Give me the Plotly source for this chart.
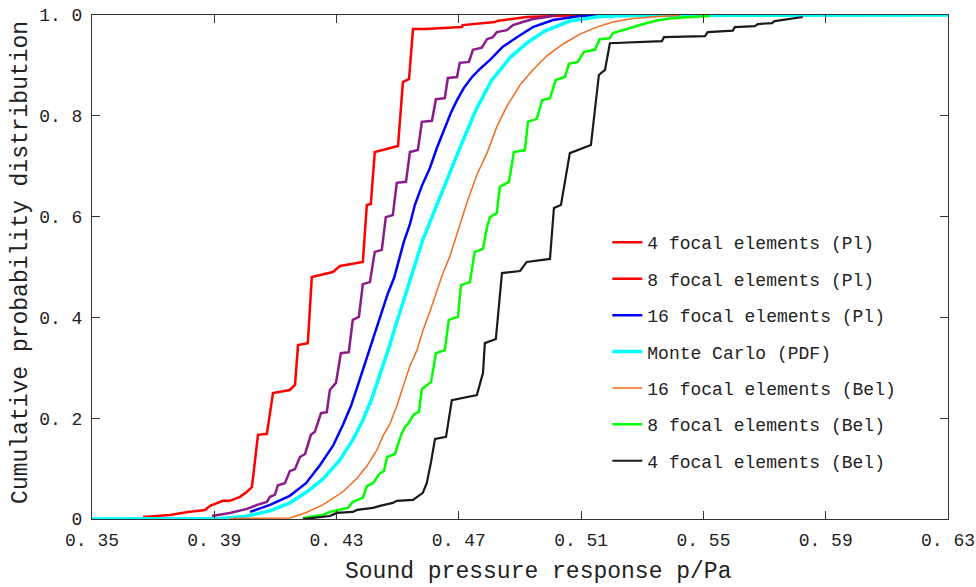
import plotly.graph_objects as go

# ---- data ----
pl4_x = [0.3667, 0.3755, 0.3814, 0.3870, 0.3886, 0.3928, 0.3951, 0.3984, 0.4007, 0.4023,
         0.4043, 0.4072, 0.4092, 0.4147, 0.4164, 0.4174, 0.4206, 0.4219, 0.4288, 0.4311,
         0.4386, 0.4399, 0.4412, 0.4425, 0.4501, 0.4517, 0.4537, 0.4550, 0.4589, 0.4710,
         0.4713, 0.4818, 0.4824, 0.4909, 0.4922, 0.5106]
pl4_y = [0.004, 0.008, 0.014, 0.018, 0.026, 0.036, 0.036, 0.044, 0.054, 0.063,
         0.167, 0.169, 0.250, 0.256, 0.266, 0.345, 0.349, 0.480, 0.490, 0.502,
         0.510, 0.623, 0.625, 0.728, 0.740, 0.867, 0.873, 0.972, 0.972, 0.976,
         0.980, 0.986, 0.988, 0.994, 0.996, 1.000]

pl8_x = [0.3892, 0.3951, 0.4007, 0.4040, 0.4072, 0.4082, 0.4098, 0.4108, 0.4131, 0.4147,
         0.4164, 0.4180, 0.4197, 0.4216, 0.4229, 0.4249, 0.4268, 0.4278, 0.4298, 0.4314,
         0.4340, 0.4353, 0.4373, 0.4386, 0.4409, 0.4425, 0.4448, 0.4461, 0.4484, 0.4497,
         0.4527, 0.4540, 0.4566, 0.4579, 0.4612, 0.4625, 0.4654, 0.4664, 0.4694, 0.4703,
         0.4733, 0.4746, 0.4775, 0.4792, 0.4811, 0.4824, 0.4857, 0.4877, 0.4909, 0.4942,
         0.4988, 0.5021]
pl8_y = [0.006, 0.012, 0.020, 0.028, 0.034, 0.044, 0.048, 0.067, 0.071, 0.095,
         0.099, 0.123, 0.129, 0.167, 0.173, 0.210, 0.212, 0.256, 0.270, 0.329,
         0.331, 0.395, 0.401, 0.466, 0.470, 0.530, 0.534, 0.599, 0.603, 0.667,
         0.669, 0.728, 0.732, 0.788, 0.790, 0.833, 0.835, 0.875, 0.877, 0.905,
         0.907, 0.931, 0.935, 0.952, 0.956, 0.966, 0.970, 0.980, 0.986, 0.992,
         0.996, 1.000]

pl16_x = [0.4017, 0.4082, 0.4147, 0.4200, 0.4246, 0.4288, 0.4321, 0.4347, 0.4370, 0.4393,
          0.4416, 0.4435, 0.4455, 0.4468, 0.4488, 0.4501, 0.4520, 0.4540, 0.4556, 0.4579,
          0.4605, 0.4628, 0.4651, 0.4674, 0.4694, 0.4716, 0.4743, 0.4769, 0.4802, 0.4844,
          0.4890, 0.4942, 0.5008, 0.5096, 0.5178]
pl16_y = [0.014, 0.028, 0.046, 0.071, 0.107, 0.145, 0.187, 0.224, 0.266, 0.308,
          0.349, 0.387, 0.421, 0.448, 0.478, 0.506, 0.550, 0.585, 0.623, 0.661,
          0.696, 0.736, 0.770, 0.806, 0.831, 0.855, 0.877, 0.893, 0.911, 0.937,
          0.956, 0.976, 0.990, 0.998, 1.000]

mc_x = [0.3500, 0.3919, 0.4000, 0.4082, 0.4147, 0.4203, 0.4255, 0.4311, 0.4353, 0.4386,
        0.4416, 0.4442, 0.4474, 0.4497, 0.4524, 0.4553, 0.4582, 0.4612, 0.4641, 0.4671,
        0.4703, 0.4756, 0.4808, 0.4870, 0.4926, 0.4981, 0.5063, 0.5161, 0.5259, 0.6300]
mc_y = [0.000, 0.001, 0.005, 0.016, 0.032, 0.054, 0.079, 0.117, 0.157, 0.196,
        0.240, 0.286, 0.345, 0.391, 0.440, 0.498, 0.554, 0.599, 0.645, 0.688,
        0.736, 0.812, 0.871, 0.917, 0.946, 0.968, 0.988, 0.997, 0.999, 1.000]

bel16_x = [0.3951, 0.4147, 0.4197, 0.4255, 0.4321, 0.4367, 0.4399, 0.4432, 0.4452, 0.4474,
           0.4497, 0.4517, 0.4540, 0.4563, 0.4582, 0.4605, 0.4628, 0.4648, 0.4671, 0.4694,
           0.4726, 0.4759, 0.4792, 0.4824, 0.4857, 0.4900, 0.4942, 0.4988, 0.5040, 0.5096,
           0.5151, 0.5204, 0.5269, 0.5348, 0.5423]
bel16_y = [0.001, 0.002, 0.012, 0.028, 0.054, 0.081, 0.105, 0.137, 0.165, 0.188,
           0.224, 0.260, 0.304, 0.335, 0.373, 0.411, 0.450, 0.488, 0.522, 0.565,
           0.627, 0.683, 0.726, 0.778, 0.819, 0.861, 0.891, 0.919, 0.942, 0.962,
           0.976, 0.986, 0.993, 0.997, 0.999]

bel8_x = [0.4190, 0.4255, 0.4278, 0.4337, 0.4353, 0.4386, 0.4399, 0.4419, 0.4442, 0.4455,
          0.4465, 0.4491, 0.4510, 0.4524, 0.4533, 0.4553, 0.4569, 0.4579, 0.4609, 0.4625,
          0.4654, 0.4667, 0.4697, 0.4707, 0.4736, 0.4752, 0.4779, 0.4792, 0.4802, 0.4824,
          0.4834, 0.4864, 0.4880, 0.4916, 0.4926, 0.4955, 0.4972, 0.4998, 0.5017, 0.5047,
          0.5060, 0.5089, 0.5109, 0.5145, 0.5161, 0.5194, 0.5204, 0.5249, 0.5266, 0.5315,
          0.5348, 0.5390, 0.5433, 0.5521]
bel8_y = [0.002, 0.008, 0.014, 0.022, 0.034, 0.042, 0.065, 0.071, 0.091, 0.095,
          0.123, 0.129, 0.165, 0.183, 0.188, 0.208, 0.212, 0.258, 0.272, 0.329,
          0.335, 0.395, 0.401, 0.464, 0.470, 0.530, 0.536, 0.579, 0.599, 0.607,
          0.659, 0.669, 0.728, 0.732, 0.788, 0.794, 0.831, 0.835, 0.871, 0.877,
          0.903, 0.907, 0.927, 0.931, 0.952, 0.954, 0.964, 0.972, 0.976, 0.984,
          0.989, 0.993, 0.995, 0.998]

bel4_x = [0.4190, 0.4278, 0.4301, 0.4353, 0.4367, 0.4419, 0.4442, 0.4484, 0.4497, 0.4550,
          0.4582, 0.4595, 0.4609, 0.4622, 0.4658, 0.4677, 0.4759, 0.4779, 0.4785, 0.4821,
          0.4841, 0.4900, 0.4922, 0.4998, 0.5011, 0.5034, 0.5063, 0.5132, 0.5158, 0.5178,
          0.5194, 0.5364, 0.5371, 0.5505, 0.5514, 0.5596, 0.5603, 0.5668, 0.5678, 0.5724,
          0.5733, 0.5773, 0.5825]
bel4_y = [0.000, 0.006, 0.012, 0.014, 0.018, 0.022, 0.026, 0.032, 0.036, 0.038,
          0.052, 0.071, 0.113, 0.159, 0.163, 0.236, 0.246, 0.290, 0.349, 0.357,
          0.488, 0.492, 0.510, 0.516, 0.617, 0.623, 0.726, 0.742, 0.881, 0.891,
          0.944, 0.948, 0.956, 0.958, 0.966, 0.969, 0.976, 0.978, 0.982, 0.984,
          0.988, 0.992, 0.996]

x_ticks = [0.35, 0.39, 0.43, 0.47, 0.51, 0.55, 0.59, 0.63]
x_ticktext = ["0. 35", "0. 39", "0. 43", "0. 47", "0. 51", "0. 55", "0. 59", "0. 63"]
y_ticks = [0, 0.2, 0.4, 0.6, 0.8, 1.0]
y_ticktext = ["0", "0. 2", "0. 4", "0. 6", "0. 8", "1. 0"]

FONT = "Liberation Mono"

fig = go.Figure()

def add(x, y, name, color, width, rank, group, show=True):
    fig.add_trace(go.Scatter(x=x, y=y, mode="lines", name=name, showlegend=show,
                             legendrank=rank, legendgroup=group,
                             line=dict(color=color, width=width)))

add(pl4_x, pl4_y, "4 focal elements (Pl)", "#ff0000", 2.5, 1, "g1")
add(pl8_x, pl8_y, "8 focal elements (Pl)", "#8b1a8b", 2.5, 2, "g2", show=False)
add(pl16_x, pl16_y, "16 focal elements (Pl)", "#0000ff", 2.5, 3, "g3")
add(mc_x, mc_y, "Monte Carlo (PDF)", "#00ffff", 3.5, 4, "g4")
add(bel16_x, bel16_y, "16 focal elements (Bel)", "#f26b1d", 1.5, 5, "g5")
add(bel8_x, bel8_y, "8 focal elements (Bel)", "#00ff00", 2.5, 6, "g6")
add(bel4_x, bel4_y, "4 focal elements (Bel)", "#1a1a1a", 2.2, 7, "g7")
# legend entry for the 8-element Pl curve (drawn red in the reference legend)
fig.add_trace(go.Scatter(x=[None], y=[None], mode="lines", name="8 focal elements (Pl)",
                         legendrank=2, legendgroup="g2b",
                         line=dict(color="#ff0000", width=2.5)))

axis_common = dict(showgrid=False, zeroline=False, showline=True, linecolor="#333333",
                   linewidth=1, mirror="ticks", ticks="inside", ticklen=8,
                   tickcolor="#333333", automargin=False, ticklabeloverflow="allow",
                   tickfont=dict(family=FONT, size=18, color="#222222"))

fig.update_xaxes(range=[0.35, 0.63], tickvals=x_ticks, ticktext=x_ticktext,
                 ticklabelstandoff=4, **axis_common)
fig.update_yaxes(range=[0, 1], tickvals=y_ticks, ticktext=y_ticktext,
                 ticklabelstandoff=5, **axis_common)

fig.update_layout(
    width=976, height=587,
    margin=dict(l=92, r=28, t=15, b=68, autoexpand=False),
    paper_bgcolor="white", plot_bgcolor="white",
    font=dict(family=FONT, color="#222222"),
    showlegend=True,
    legend=dict(x=0.602, y=0.585, xanchor="left", yanchor="top",
                bgcolor="rgba(0,0,0,0)", borderwidth=0,
                font=dict(family=FONT, size=18, color="#222222"),
                tracegroupgap=10, traceorder="grouped"),
    annotations=[
        dict(text="Sound pressure response p/Pa", xref="paper", yref="paper",
             x=0.522, y=-0.105, xanchor="center", yanchor="middle", showarrow=False,
             font=dict(family=FONT, size=23, color="#222222")),
        dict(text="Cumulative probability distribution", xref="paper", yref="paper",
             x=-0.083, y=0.51, xanchor="center", yanchor="middle", showarrow=False,
             textangle=-90, font=dict(family=FONT, size=23, color="#222222")),
    ],
)

fig.write_html("out.html",
               config={"displayModeBar": False},
               post_script="document.body.style.margin='0';document.body.style.overflow='hidden';")
